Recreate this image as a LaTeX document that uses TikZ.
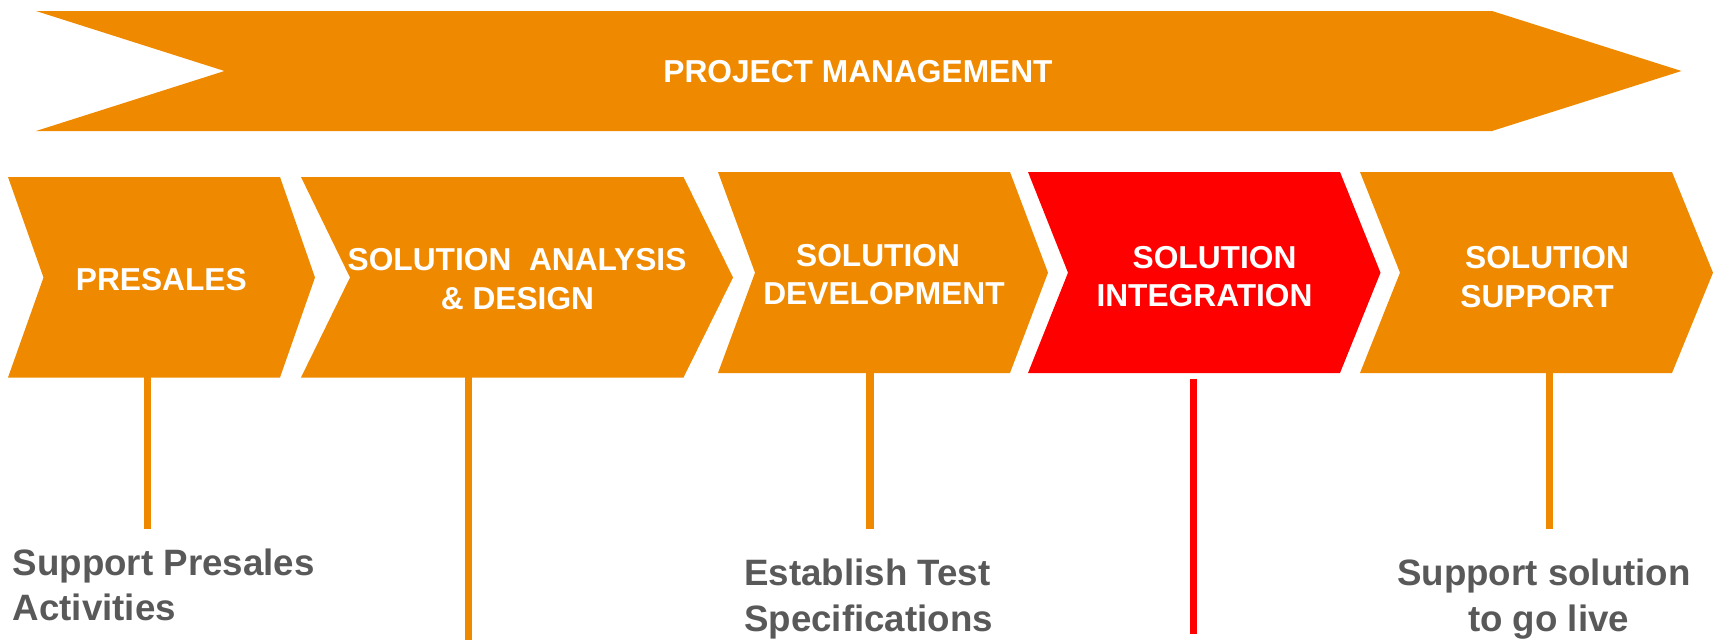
\documentclass[tikz,border=0pt]{standalone}
\usepackage{fontspec}
\setmainfont{Liberation Sans}
\definecolor{orng}{RGB}{239,138,0}
\definecolor{txtgray}{RGB}{89,89,89}
\definecolor{hired}{RGB}{255,0,0}
\begin{document}
\begin{tikzpicture}[x=1pt,y=-1pt,
  wlabel/.style={text=white,font=\fontsize{31.7}{38}\selectfont\bfseries,inner sep=0,anchor=base},
  glabel/.style={text=txtgray,font=\fontsize{36.7}{45}\selectfont\bfseries,inner sep=0,anchor=base},
  stem/.style={line width=7.5pt,draw=orng},
  redstem/.style={line width=7.5pt,draw=hired}]
\useasboundingbox (0,0) rectangle (1716,640);
% project management banner
\fill[orng] (36,11) -- (1492,11) -- (1681.5,71) -- (1492,131) -- (36,131) -- (224.5,71) -- cycle;
\node[wlabel] (pm) at (858,82.7) {PROJECT MANAGEMENT};
% chevrons
\fill[orng] (8,177) -- (280,177) -- (315,277.5) -- (280,377.5) -- (8,377.5) -- (43.5,277.5) -- cycle;
\fill[orng] (301,177) -- (683.5,177) -- (733,277.5) -- (683.5,377.5) -- (301,377.5) -- (350,277.5) -- cycle;
\fill[orng] (718,172) -- (1010,172) -- (1048,272.7) -- (1010,373) -- (718,373) -- (755,272.7) -- cycle;
\fill[hired] (1028,172) -- (1340,172) -- (1380.5,272.7) -- (1340,373) -- (1028,373) -- (1068,272.7) -- cycle;
\fill[orng] (1360,172) -- (1672,172) -- (1713,272.7) -- (1672,373) -- (1360,373) -- (1400,272.7) -- cycle;
% chevron labels
\node[wlabel] (c1) at (161.3,290) {PRESALES};
\node[wlabel] (c2a) at (517,270) {SOLUTION\ \ ANALYSIS};
\node[wlabel] (c2b) at (517.5,309.3) {\&\ DESIGN};
\node[wlabel] (c3a) at (878,266) {SOLUTION};
\node[wlabel] (c3b) at (884,304) {DEVELOPMENT};
\node[wlabel] (c4a) at (1214.5,268.3) {SOLUTION};
\node[wlabel] (c4b) at (1204.5,306.7) {INTEGRATION};
\node[wlabel] (c5a) at (1547,268) {SOLUTION};
\node[wlabel] (c5b) at (1537,307) {SUPPORT};
% stem coordinates
\coordinate (s1) at (147.5,377);
\coordinate (e1) at (147.5,529);
\coordinate (s2) at (468.5,377);
\coordinate (e2) at (468.5,640);
\coordinate (s3) at (870,372.7);
\coordinate (e3) at (870,529);
\coordinate (s4) at (1193.5,378.5);
\coordinate (e4) at (1193.5,634);
\coordinate (s5) at (1549.5,372.7);
\coordinate (e5) at (1549.5,529);
\draw[stem] (s1) -- (e1);
\draw[stem] (s2) -- (e2);
\draw[stem] (s3) -- (e3);
\draw[redstem] (s4) -- (e4);
\draw[stem] (s5) -- (e5);
% bottom labels
\node[glabel,anchor=base west] (g1a) at (12.5,575) {Support Presales};
\node[glabel,anchor=base west] (g1b) at (12.5,620) {Activities};
\node[glabel] (g3a) at (867.5,585.7) {Establish Test};
\node[glabel] (g3b) at (868.5,631) {Specifications};
\node[glabel] (g5a) at (1544,585.7) {Support solution};
\node[glabel] (g5b) at (1548.6,631) {to go live};
\end{tikzpicture}
\end{document}
